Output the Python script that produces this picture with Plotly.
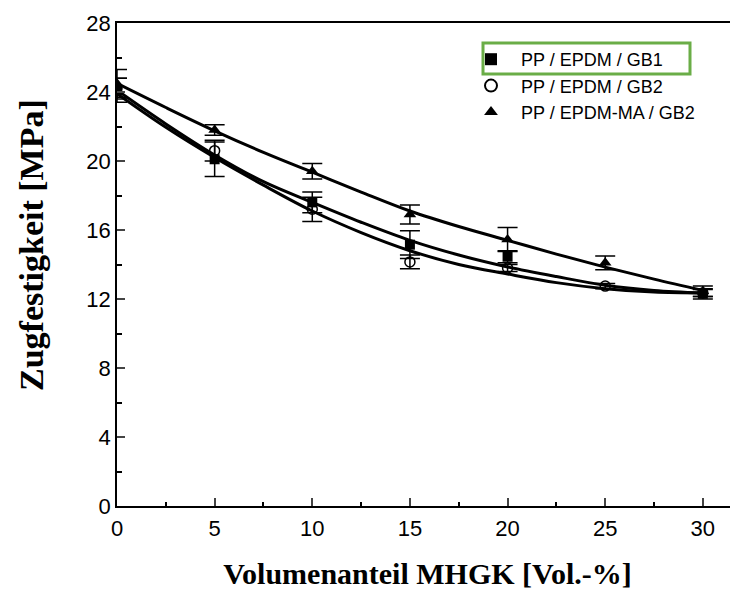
import plotly.graph_objects as go

# ---- data ----
x_sq = [0, 5, 10, 15, 20, 30]
y_sq = [24.1, 20.1, 17.6, 15.15, 14.45, 12.3]
e_sq = [0.7, 1.0, 0.6, 0.8, 0.35, 0.3]

x_ci = [0, 5, 10, 15, 20, 25, 30]
y_ci = [24.2, 20.6, 17.2, 14.15, 13.8, 12.75, 12.35]
e_ci = [0.6, 0.6, 0.7, 0.4, 0.2, 0.15, 0.2]

x_tr = [0, 5, 10, 15, 20, 25, 30]
y_tr = [24.5, 21.8, 19.4, 16.9, 15.45, 14.1, 12.45]
e_tr = [0.8, 0.3, 0.45, 0.55, 0.7, 0.4, 0.3]

# fitted trend curves
x_fit = [0, 2.5, 5, 7.5, 10, 12.5, 15, 17.5, 20, 22.5, 25, 27.5, 30]
fit_tr = [24.5, 23.1, 21.75, 20.5, 19.35, 18.2, 17.1, 16.2, 15.4, 14.6, 13.85, 13.15, 12.5]
fit_mid = [24.1, 22.15, 20.35, 18.8, 17.6, 16.45, 15.4, 14.55, 13.86, 13.3, 12.8, 12.5, 12.35]
fit_low = [23.9, 21.95, 20.2, 18.6, 17.1, 15.85, 14.8, 14.0, 13.45, 12.95, 12.6, 12.4, 12.35]

names = ["PP / EPDM / GB1", "PP / EPDM / GB2", "PP / EPDM-MA / GB2"]
x_ticks = [0, 5, 10, 15, 20, 25, 30]
y_ticks = [0, 4, 8, 12, 16, 20, 24, 28]

# page body has an 8px margin, so the figure is drawn 8px smaller and offset
OFF = 8
W, H = 738 - OFF, 590 - OFF
PL, PT, PB, PR = 117, 23, 506, 738          # plot area in page pixels
L, T, B = PL - OFF, PT - OFF, H - (PB - OFF)
PW, PH = PR - PL, PB - PT


def px(x):
    return (x - PL) / PW


def py(y):
    return (PB - y) / PH


pad = "\u00a0\u00a0"
fig = go.Figure()

for yf, nm in [(fit_tr, "Fit " + names[2]), (fit_mid, "Fit " + names[0]), (fit_low, "Fit " + names[1])]:
    fig.add_trace(go.Scatter(x=x_fit, y=yf, mode="lines", line=dict(color="black", width=3, shape="spline"),
                             showlegend=False, name=nm, hoverinfo="skip"))

err_style = dict(type="data", color="black", thickness=1.5, width=10)
fig.add_trace(go.Scatter(x=x_sq, y=y_sq, mode="markers", name=pad + names[0], legendgroup="a",
                         marker=dict(symbol="square", size=10, color="black"),
                         error_y=dict(array=e_sq, **err_style)))
fig.add_trace(go.Scatter(x=x_ci, y=y_ci, mode="markers", name=pad + names[1], legendgroup="b",
                         marker=dict(symbol="circle-open", size=10, color="black", line=dict(width=1.5)),
                         error_y=dict(array=e_ci, **err_style)))
fig.add_trace(go.Scatter(x=x_tr, y=y_tr, mode="markers", name=pad + names[2], legendgroup="c",
                         marker=dict(symbol="triangle-up", size=11, color="black"),
                         error_y=dict(array=e_tr, **err_style)))

# green highlight box around first legend entry
fig.add_shape(type="rect", xref="paper", yref="paper",
              x0=px(483), x1=px(690), y0=py(74), y1=py(43),
              line=dict(color="#6aad47", width=3))

# y-axis title placed like the reference
fig.add_annotation(text="<b>Zugfestigkeit [MPa]</b>", textangle=-90, xref="paper", yref="paper",
                   x=px(31), y=py(245), xanchor="center", yanchor="middle",
                   showarrow=False, font=dict(family="Liberation Serif, DejaVu Serif", size=34, color="black"))

fig.update_layout(
    width=W, height=H,
    margin=dict(l=L, r=0, t=T, b=B),
    plot_bgcolor="white", paper_bgcolor="white",
    font=dict(family="Liberation Sans, Arial", size=22, color="black"),
    showlegend=True,
    legend=dict(x=px(471), y=py(41), xanchor="left", yanchor="top",
                font=dict(size=18, family="Liberation Sans, Arial"), bgcolor="rgba(0,0,0,0)",
                tracegroupgap=0, itemsizing="constant"),
    xaxis=dict(range=[0, 31.8], tickvals=x_ticks, ticks="inside", ticklen=8, tickwidth=1.5,
               showline=True, linecolor="black", linewidth=1.5, mirror=True, showgrid=False, zeroline=False,
               ticklabelstandoff=2, automargin=False,
               minor=dict(tickvals=[2.5, 7.5, 12.5, 17.5, 22.5, 27.5], ticks="inside", ticklen=4, tickcolor="black"),
               title=dict(text="<b>Volumenanteil MHGK [Vol.-%]</b>",
                          font=dict(family="Liberation Serif, DejaVu Serif", size=30), standoff=23)),
    yaxis=dict(range=[0, 28], tickvals=y_ticks, ticks="inside", ticklen=8, tickwidth=1.5,
               showline=True, linecolor="black", linewidth=1.5, showgrid=False, zeroline=False,
               ticklabelstandoff=0, automargin=False,
               minor=dict(tickvals=[2, 6, 10, 14, 18, 22, 26], ticks="inside", ticklen=5, tickcolor="black")),
)

fig.write_html("out.html")
